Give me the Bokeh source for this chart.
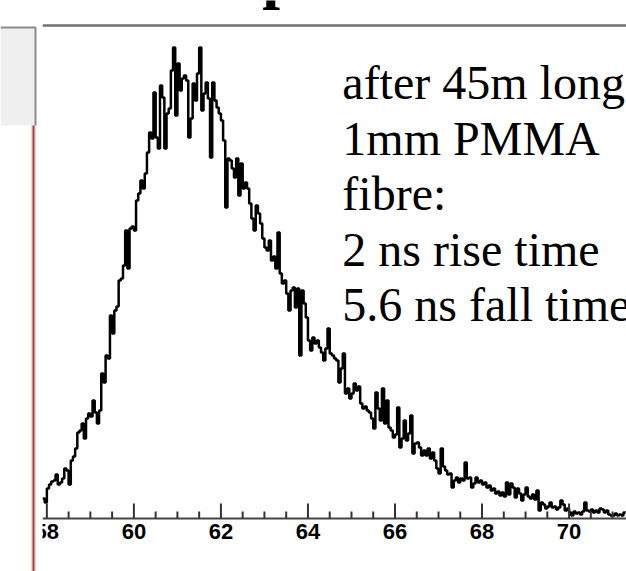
from bokeh.plotting import figure
from bokeh.layouts import row
from bokeh.models import Range1d, Label
from bokeh.core.properties import value
from bokeh.embed import file_html
from bokeh.resources import INLINE

# ---- data -------------------------------------------------------------
bin_start = 57.9      # ns, left edge of first bin
bin_width = 0.05      # ns
counts = [
    20, 16, 30, 34, 37, 38, 44, 34, 36, 40, 50, 48, 34, 58, 62, 70, 86, 88, 95, 80,
    100, 105, 102, 118, 106, 95, 108, 145, 136, 163, 160, 203, 185, 208, 212, 238, 240, 253, 288, 250,
    290, 292, 288, 318, 325, 338, 330, 345, 366, 386, 380, 426, 381, 370, 433, 421, 370, 405, 410, 448,
    471, 403, 455, 428, 440, 443, 438, 381, 400, 435, 418, 445, 471, 408, 425, 436, 420, 361, 436, 418,
    411, 405, 398, 378, 311, 360, 358, 350, 341, 360, 323, 355, 330, 336, 330, 315, 300, 288, 313, 305,
    295, 280, 271, 268, 278, 258, 262, 250, 286, 245, 235, 238, 225, 208, 228, 231, 211, 230, 163, 228,
    215, 201, 178, 168, 181, 175, 178, 171, 166, 158, 170, 190, 165, 163, 160, 158, 136, 150, 165, 125,
    130, 120, 125, 135, 128, 132, 115, 110, 112, 108, 106, 100, 90, 126, 110, 98, 130, 95, 118, 91,
    88, 81, 84, 111, 71, 80, 98, 78, 85, 103, 65, 75, 76, 71, 63, 68, 63, 70, 60, 66,
    58, 50, 45, 70, 52, 48, 44, 45, 31, 38, 41, 36, 40, 38, 56, 40, 41, 31, 35, 41,
    36, 38, 34, 36, 31, 33, 28, 30, 25, 27, 23, 26, 22, 36, 24, 35, 31, 21, 30, 25,
    18, 24, 31, 22, 20, 24, 19, 28, 8, 16, 14, 10, 12, 16, 11, 12, 9, 11, 18, 14,
    8, 10, 6, 3, 7, 5, 6, 4, 7, 16, 8, 7, 9, 6, 8, 6, 10, 9, 6, 8,
    4, 3, 3, 5, 3, 4, 3, 6,
]
major_ticks = [58, 60, 62, 64, 66, 68, 70]
major_labels = ["58", "60", "62", "64", "66", "68", "70"]
minor_ticks = [58 + 0.5 * k for k in range(28) if (58 + 0.5 * k) not in major_ticks]
note_lines = ["after 45m long", "1mm PMMA", "fibre:", "2 ns rise time", "5.6 ns fall time"]

edges = [bin_start + bin_width * i for i in range(len(counts) + 1)]
step_y = counts + [counts[-1]]

X0, X1 = 57.9, 71.32
Y_TOP_FRAME = 493

# ---- left decoration strip --------------------------------------------
H = 571
left = figure(width=42, height=H, x_range=Range1d(0, 42), y_range=Range1d(H, 0),
              x_axis_location=None, y_axis_location=None, min_border=0,
              toolbar_location=None, output_backend="svg")
left.outline_line_color = None
left.grid.visible = False
left.quad(left=[0], right=[35], top=[27], bottom=[125], fill_color="#efefef", line_color=None)
left.line([0, 35, 35], [27, 27, 125], line_color="#8a8a8a", line_width=2)
left.line([33, 33], [125, H], line_color="#e4aaaa", line_width=4)
left.line([33, 33], [125, H], line_color="#a83838", line_width=1.5)

# ---- main histogram -----------------------------------------------------
p = figure(width=584, height=H, x_range=Range1d(X0, X1), y_range=Range1d(-53, 518),
           x_axis_location=None, y_axis_location=None, min_border=0,
           toolbar_location=None, output_backend="svg")
p.outline_line_color = None
p.grid.visible = False
p.background_fill_color = "white"

# top frame line
p.line(x=[X0, X1], y=[Y_TOP_FRAME, Y_TOP_FRAME], line_color="#707070", line_width=2.5)

# histogram
p.step(x=edges, y=step_y, mode="after", line_color="black", line_width=2.5)

# x axis (line, ticks, labels)
p.line(x=[X0, X1], y=[0, 0], line_color="#444444", line_width=2)
p.segment(x0=major_ticks, y0=[0] * len(major_ticks), x1=major_ticks, y1=[15] * len(major_ticks),
          line_color="#333333", line_width=2)
p.segment(x0=minor_ticks, y0=[0] * len(minor_ticks), x1=minor_ticks, y1=[7] * len(minor_ticks),
          line_color="#333333", line_width=2)
p.text(x=major_ticks, y=[-5] * len(major_ticks), text=major_labels,
       text_font=value("Liberation Sans"), text_font_style="bold",
       text_font_size="22px", text_align="center", text_baseline="top",
       text_color="black")

# partial title glyph at the top
p.add_layout(Label(x=62.95, y=544, text="p", text_font="Liberation Serif",
                   text_font_size="64px", text_font_style="bold",
                   text_baseline="alphabetic", text_color="black"))

y0 = 436
for k, t in enumerate(note_lines):
    p.add_layout(Label(x=64.79, y=y0 - 55.5 * k, text=t, text_font="Liberation Serif",
                       text_font_size="48px", text_baseline="alphabetic",
                       text_color="black"))

layout = row(left, p, spacing=0)
open("out.html", "w").write(file_html(layout, INLINE))
